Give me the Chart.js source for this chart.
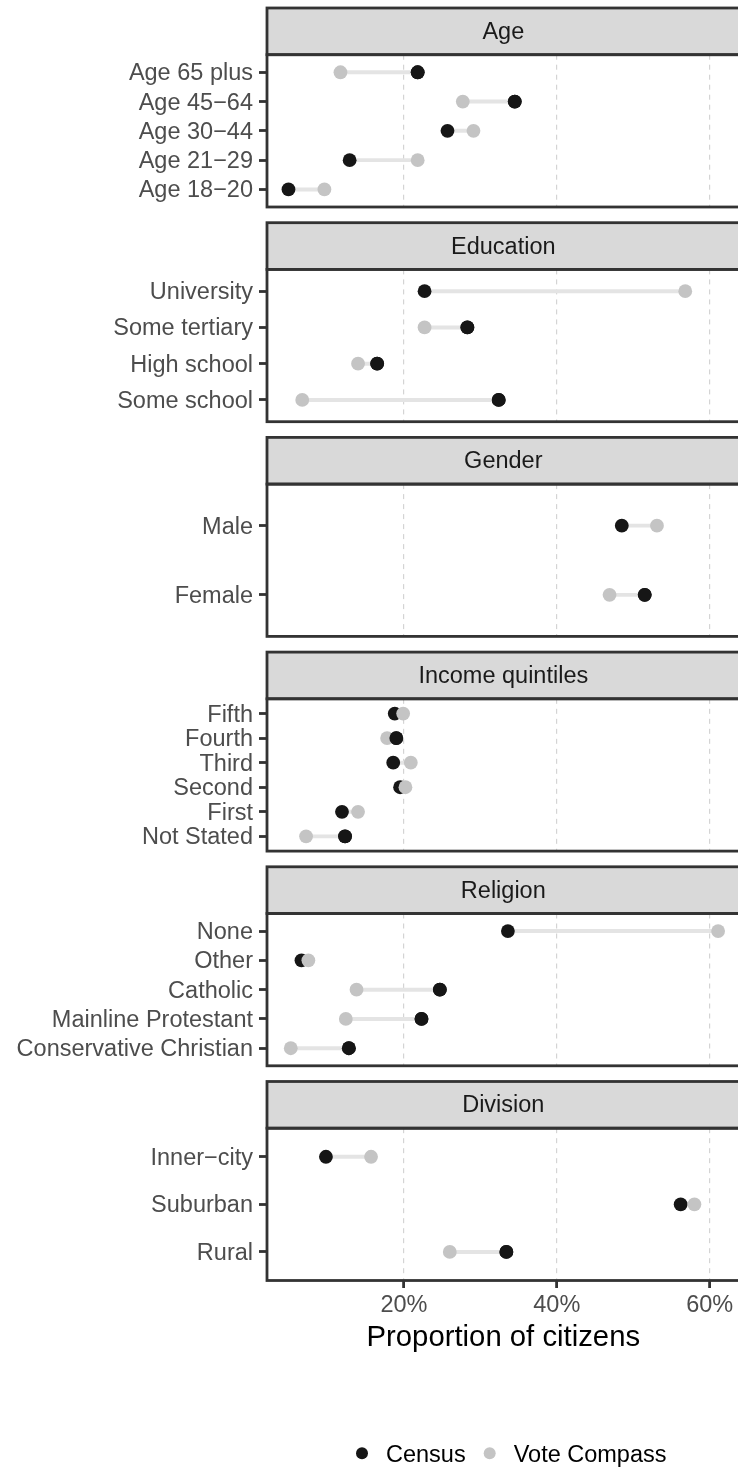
<!DOCTYPE html>
<html>
<head>
<meta charset="utf-8">
<title>Proportion of citizens: Census vs Vote Compass</title>
<script src="https://cdn.jsdelivr.net/npm/chart.js@4.4.1/dist/chart.umd.min.js"></script>
<style>
  html, body { margin: 0; padding: 0; background: #ffffff; overflow: hidden; width: 738px; height: 1469px; }
  #stage { position: relative; width: 738px; height: 1469px; overflow: hidden; }
  #stage canvas { position: absolute; left: 0; }
</style>
</head>
<body>
<div id="stage"></div>
<script>
// ---- data (percent of citizens), categories listed top to bottom ----
const facetTitles = ["Age", "Education", "Gender", "Income quintiles", "Religion", "Division"];
const seriesNames = ["Census", "Vote Compass"];

const ageCategories = ["Age 65 plus", "Age 45\u221264", "Age 30\u221244", "Age 21\u221229", "Age 18\u221220"];
const ageCensus     = [21.8, 34.5, 25.7, 12.9, 4.9];
const ageVote       = [11.7, 27.7, 29.1, 21.8, 9.6];

const eduCategories = ["University", "Some tertiary", "High school", "Some school"];
const eduCensus     = [22.7, 28.3, 16.5, 32.4];
const eduVote       = [56.8, 22.7, 14.0, 6.7];

const genderCategories = ["Male", "Female"];
const genderCensus     = [48.5, 51.5];
const genderVote       = [53.1, 46.9];

const incomeCategories = ["Fifth", "Fourth", "Third", "Second", "First", "Not Stated"];
const incomeCensus     = [18.8, 19.0, 18.6, 19.5, 11.9, 12.3];
const incomeVote       = [19.9, 17.8, 20.9, 20.2, 14.0, 7.2];

const religionCategories = ["None", "Other", "Catholic", "Mainline Protestant", "Conservative Christian"];
const religionCensus     = [33.6, 6.6, 24.7, 22.3, 12.8];
const religionVote       = [61.1, 7.5, 13.8, 12.4, 5.2];

const divisionCategories = ["Inner\u2212city", "Suburban", "Rural"];
const divisionCensus     = [9.8, 56.2, 33.4];
const divisionVote       = [15.7, 58.0, 26.0];

const xTickValues = [20, 40, 60];

// ---- assemble facets ----
const facets = [
  { title: facetTitles[0], categories: ageCategories,      census: ageCensus,      vote: ageVote },
  { title: facetTitles[1], categories: eduCategories,      census: eduCensus,      vote: eduVote },
  { title: facetTitles[2], categories: genderCategories,   census: genderCensus,   vote: genderVote },
  { title: facetTitles[3], categories: incomeCategories,   census: incomeCensus,   vote: incomeVote },
  { title: facetTitles[4], categories: religionCategories, census: religionCensus, vote: religionVote },
  { title: facetTitles[5], categories: divisionCategories, census: divisionCensus, vote: divisionVote }
];

// shared x range with 5% breathing room on both sides
const allValues = facets.flatMap(f => f.census.concat(f.vote));
const dataMin = Math.min(...allValues), dataMax = Math.max(...allValues);
const xPad = (dataMax - dataMin) * 0.05;
const xMin = dataMin - xPad, xMax = dataMax + xPad;

// ---- style & geometry ----
const FONT = "'Liberation Sans', Arial, Helvetica, sans-serif";
const PAGE_H = 1469;
const CANVAS_W = 744;
const PANEL_LEFT = 267;
const PANEL_RIGHT = 739.6;
const FIRST_STRIP_TOP = 8;
const FACET_STEP = 214.7;
const STRIP_H = 46.7;
const BODY_H = 152.3;
const AXIS_BOTTOM = 1360;      // lower edge of the x-axis block (ticks, labels, title)
const LINE = '#333333';
const CENSUS_COLOR = '#161616';
const VOTE_COLOR = '#c4c4c4';
const SEGMENT_COLOR = '#e4e4e4';
const POINT_R = 6.9;

// strip header + panel frame
const facetFrame = {
  id: 'facetFrame',
  afterDraw(chart, args, opts) {
    const { ctx, chartArea: { left, right, top, bottom } } = chart;
    ctx.save();
    ctx.fillStyle = '#d9d9d9';
    ctx.fillRect(left, top - STRIP_H, right - left, STRIP_H);
    ctx.lineWidth = 2.8;
    ctx.strokeStyle = LINE;
    ctx.strokeRect(left, top - STRIP_H, right - left, STRIP_H);
    ctx.strokeRect(left, top, right - left, bottom - top);
    ctx.fillStyle = '#1a1a1a';
    ctx.font = '23.5px ' + FONT;
    ctx.textAlign = 'center';
    ctx.textBaseline = 'middle';
    ctx.fillText(opts.title, (left + right) / 2, top - STRIP_H / 2 + 1);
    ctx.restore();
  }
};

// horizontal key under the last panel
const dotLegend = {
  id: 'dotLegend',
  afterDraw(chart, args, opts) {
    if (!opts.show) return;
    const { ctx } = chart;
    const items = chart.data.datasets.filter(d => d.inLegend);
    ctx.save();
    ctx.font = '23.5px ' + FONT;
    ctx.textBaseline = 'alphabetic';
    ctx.textAlign = 'left';
    let x = opts.x;
    items.forEach(d => {
      ctx.beginPath();
      ctx.fillStyle = d.pointBackgroundColor;
      ctx.arc(x, opts.y, opts.r, 0, Math.PI * 2);
      ctx.fill();
      ctx.fillStyle = '#000000';
      ctx.fillText(d.label, x + opts.textGap, opts.baseline);
      x += opts.textGap + ctx.measureText(d.label).width + opts.itemGap;
    });
    ctx.restore();
  }
};

const stage = document.getElementById('stage');

facets.forEach((f, k) => {
  const isLast = k === facets.length - 1;
  const stripTop = FIRST_STRIP_TOP + k * FACET_STEP;
  const bodyTop = stripTop + STRIP_H;
  const bodyBottom = bodyTop + BODY_H;
  const canvasTop = Math.floor(stripTop) - 4;
  const canvasH = isLast ? PAGE_H - canvasTop : Math.ceil(bodyBottom) + 4 - canvasTop;
  const xAxisH = isLast ? AXIS_BOTTOM - bodyBottom : 0;
  const padBottom = canvasH - (bodyBottom - canvasTop) - xAxisH;

  const canvas = document.createElement('canvas');
  canvas.width = CANVAS_W;
  canvas.height = canvasH;
  canvas.style.top = canvasTop + 'px';
  canvas.style.width = CANVAS_W + 'px';
  canvas.style.height = canvasH + 'px';
  stage.appendChild(canvas);

  const n = f.categories.length;
  const rowOf = i => i + 1;

  new Chart(canvas, {
    type: 'scatter',
    data: {
      datasets: [
        {
          type: 'bar',
          indexAxis: 'y',
          label: 'gap',
          data: f.categories.map((c, i) => ({ y: rowOf(i), x: [f.census[i], f.vote[i]] })),
          backgroundColor: SEGMENT_COLOR,
          borderWidth: 0,
          barThickness: 3.3,
          order: 3
        },
        {
          label: seriesNames[0],
          inLegend: true,
          data: f.census.map((v, i) => ({ x: v, y: rowOf(i) })),
          pointRadius: POINT_R,
          pointBackgroundColor: CENSUS_COLOR,
          pointBorderWidth: 0,
          order: 2
        },
        {
          label: seriesNames[1],
          inLegend: true,
          data: f.vote.map((v, i) => ({ x: v, y: rowOf(i) })),
          pointRadius: POINT_R,
          pointBackgroundColor: VOTE_COLOR,
          pointBorderWidth: 0,
          order: 1
        },
        {
          // census dots that lead their pair are painted above the other series
          label: seriesNames[0] + ' (front)',
          data: f.census.map((v, i) => ({ x: v, y: rowOf(i) })),
          pointRadius: ctx => (f.census[ctx.dataIndex] > f.vote[ctx.dataIndex] ? POINT_R : 0),
          pointBackgroundColor: CENSUS_COLOR,
          pointBorderWidth: 0,
          order: 0
        }
      ]
    },
    options: {
      responsive: false,
      animation: false,
      devicePixelRatio: 1,
      events: [],
      layout: {
        autoPadding: false,
        padding: {
          top: bodyTop - canvasTop,
          bottom: padBottom,
          left: 0,
          right: CANVAS_W - PANEL_RIGHT
        }
      },
      scales: {
        x: {
          type: 'linear',
          min: xMin,
          max: xMax,
          offset: false,
          beginAtZero: false,
          afterBuildTicks: s => { s.ticks = xTickValues.map(v => ({ value: v })); },
          ticks: {
            display: isLast,
            autoSkip: false,
            maxRotation: 0,
            padding: 3.5,
            color: '#4d4d4d',
            font: { family: FONT, size: 23.5 },
            callback: v => v + '%'
          },
          grid: {
            offset: false,
            color: '#d4d4d4',
            lineWidth: 1.2,
            drawTicks: isLast,
            tickLength: 7.5,
            tickWidth: 2.8,
            tickColor: LINE,
            tickBorderDash: []
          },
          border: { display: false, dash: [5, 5] },
          title: {
            display: isLast,
            text: 'Proportion of citizens',
            color: '#000000',
            font: { family: FONT, size: 29.3, lineHeight: 1 },
            padding: { top: 0, bottom: 7.6 }
          },
          afterFit: s => { s.height = xAxisH; s.paddingLeft = 0; s.paddingRight = 0; }
        },
        y: {
          type: 'linear',
          reverse: true,
          min: 0.4,
          max: n + 0.6,
          offset: false,
          afterBuildTicks: s => { s.ticks = f.categories.map((c, i) => ({ value: rowOf(i) })); },
          ticks: {
            autoSkip: false,
            padding: 6,
            labelOffset: 1.5,
            color: '#4d4d4d',
            font: { family: FONT, size: 23.5 },
            callback: v => f.categories[Math.round(v) - 1]
          },
          grid: {
            offset: false,
            drawOnChartArea: false,
            drawTicks: true,
            tickLength: 8,
            tickWidth: 2.8,
            tickColor: LINE
          },
          border: { display: false },
          afterFit: s => { s.width = PANEL_LEFT; s.paddingTop = 0; s.paddingBottom = 0; }
        }
      },
      plugins: {
        legend: { display: false },
        tooltip: { enabled: false },
        facetFrame: { title: f.title },
        dotLegend: {
          show: isLast,
          x: 362,
          y: 1453.3 - canvasTop,
          baseline: 1461.7 - canvasTop,
          r: 6,
          textGap: 24,
          itemGap: 24
        }
      }
    },
    plugins: [facetFrame, dotLegend]
  });
});
</script>
</body>
</html>
